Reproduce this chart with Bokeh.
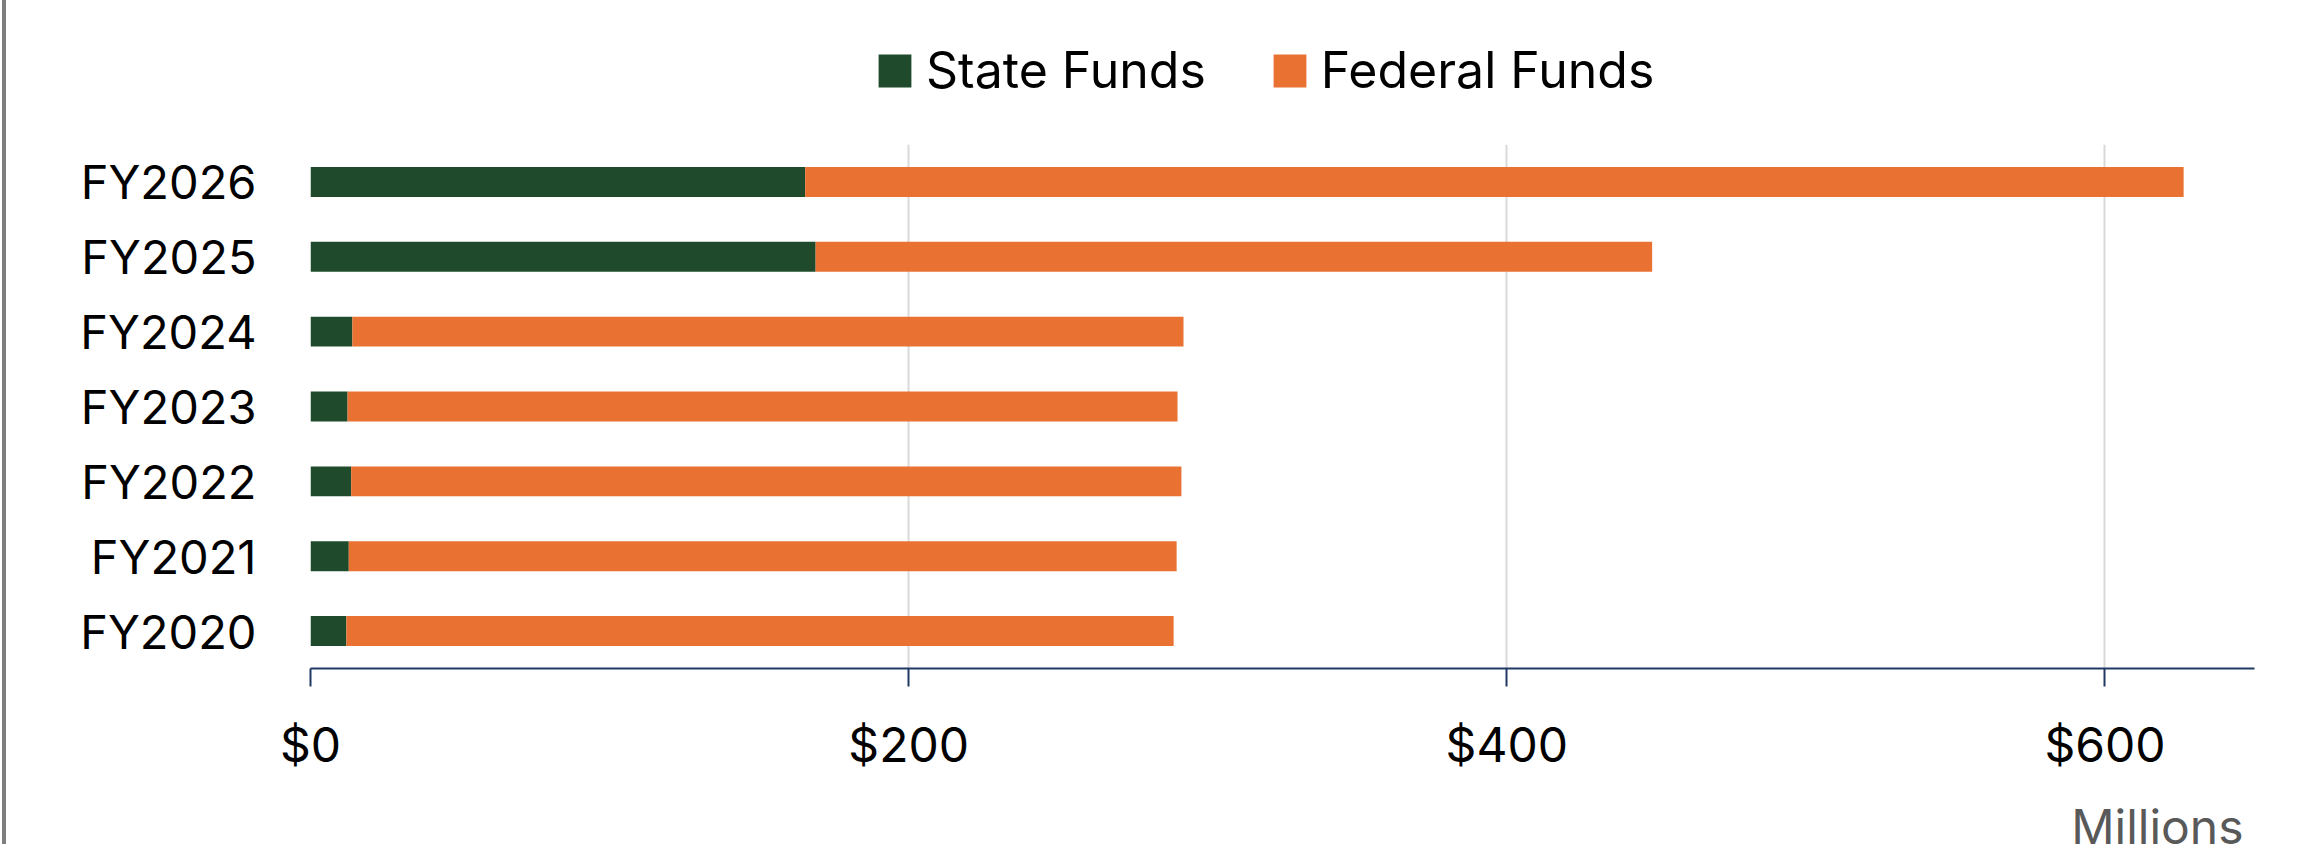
from bokeh.plotting import figure
from bokeh.layouts import column
from bokeh.models import (ColumnDataSource, FactorRange, Range1d, FixedTicker,
                          NumeralTickFormatter, Legend, LegendItem, Label)
from bokeh.embed import file_html
from bokeh.resources import INLINE

categories = ["FY2020", "FY2021", "FY2022", "FY2023", "FY2024", "FY2025", "FY2026"]
state_funds = [12.0, 12.8, 13.6, 12.4, 14.0, 168.9, 165.4]
federal_funds = [276.6, 276.8, 277.6, 277.5, 277.9, 279.7, 460.9]
series_names = ["State Funds", "Federal Funds"]
x_ticks = [0, 200, 400, 600]
axis_unit = "Millions"

FONT = "Inter"
GREEN = "#1F4B2C"
ORANGE = "#E97132"
NAVY = "#1F3864"
W = 2305
LEFT = 310
RIGHT = 51


def bare(height):
    # strip whose frame lines up with the main chart frame; data units = page pixels
    f = figure(width=W, height=height, output_backend="svg", toolbar_location=None,
               x_range=Range1d(LEFT, W - RIGHT), y_range=Range1d(0, height),
               x_axis_type=None, y_axis_type=None,
               min_border_left=LEFT, min_border_right=RIGHT, min_border_top=0, min_border_bottom=0)
    f.outline_line_color = None
    f.background_fill_color = None
    f.border_fill_color = None
    return f


# ---- legend strip ----
top = bare(144)
dummy = ColumnDataSource(dict(y=[-5000], right=[-5000]))
g0 = top.hbar(y="y", right="right", left=-5001, height=1, source=dummy, color=GREEN, line_color=None)
g1 = top.hbar(y="y", right="right", left=-5001, height=1, source=dummy, color=ORANGE, line_color=None)
legend = Legend(items=[LegendItem(label=series_names[0], renderers=[g0]),
                       LegendItem(label=series_names[1], renderers=[g1])],
                orientation="horizontal", location=(874 - LEFT, 44),
                glyph_width=41, glyph_height=41, label_standoff=11, spacing=63,
                padding=0, margin=0, border_line_color=None, background_fill_alpha=0,
                label_text_font=FONT, label_text_font_size="50px", label_text_color="#000000")
top.add_layout(legend, "center")

# ---- main chart ----
source = ColumnDataSource(dict(cat=categories, state=state_funds, federal=federal_funds))
p = figure(width=W, height=646, output_backend="svg", toolbar_location=None,
           y_range=FactorRange(factors=categories, range_padding=0),
           x_range=Range1d(0, 650),
           min_border_left=LEFT, min_border_right=RIGHT, min_border_top=0, min_border_bottom=122)

p.hbar_stack(["state", "federal"], y="cat", height=0.4, source=source,
             color=[GREEN, ORANGE], line_color=None)

p.xaxis.ticker = FixedTicker(ticks=x_ticks)
p.xaxis.formatter = NumeralTickFormatter(format="$0,0")
p.xaxis.axis_line_color = NAVY
p.xaxis.axis_line_width = 2
p.xaxis.major_tick_line_color = NAVY
p.xaxis.major_tick_line_width = 2
p.xaxis.major_tick_out = 18
p.xaxis.major_tick_in = 0
p.xaxis.minor_tick_line_color = None
p.xaxis.major_label_standoff = 28
p.xaxis.major_label_text_font = FONT
p.xaxis.major_label_text_font_size = "48px"
p.xaxis.major_label_text_color = "#000000"

p.yaxis.axis_line_color = None
p.yaxis.major_tick_line_color = None
p.yaxis.minor_tick_line_color = None
p.yaxis.major_label_standoff = 48
p.yaxis.major_label_text_font = FONT
p.yaxis.major_label_text_font_size = "47px"
p.yaxis.major_label_text_color = "#000000"

p.xgrid.grid_line_color = "#D9D9D9"
p.xgrid.grid_line_width = 2
p.ygrid.grid_line_color = None
p.outline_line_color = None
p.border_fill_color = None
p.background_fill_color = "#FFFFFF"

# ---- unit strip ----
bottom = bare(54)
bottom.add_layout(Label(x=2243, y=18, text=axis_unit, text_align="right", text_baseline="alphabetic",
                        text_font=FONT, text_font_size="48px", text_color="#595959"))

layout = column(top, p, bottom, spacing=0)
layout.styles = {"box-shadow": "inset 2px 0 0 0 #FFFFFF, inset 6px 0 0 0 #7F7F7F"}

open("out.html", "w").write(file_html(layout, INLINE))
